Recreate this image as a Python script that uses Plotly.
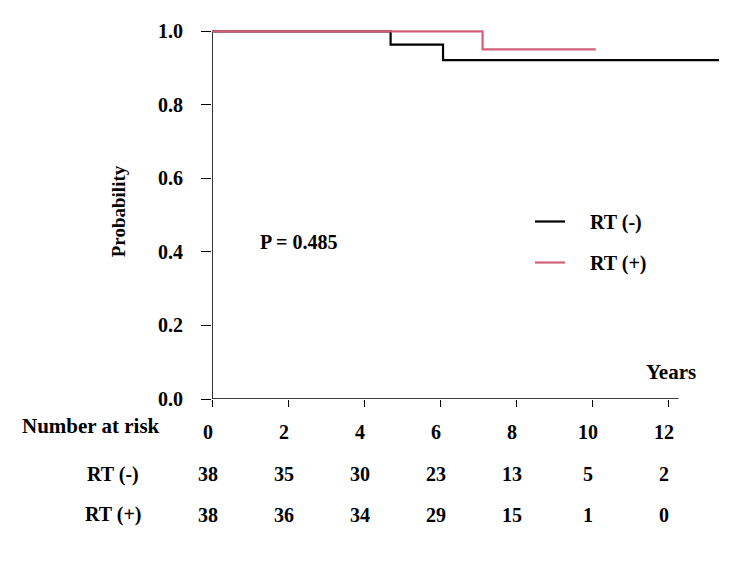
import plotly.graph_objects as go

# ---- data ----
rt_minus_time = [0, 4.70, 6.08, 13.34]
rt_minus_surv = [1.0, 0.964, 0.922, 0.922]
rt_plus_time = [0, 7.12, 10.10]
rt_plus_surv = [1.0, 0.951, 0.951]

x_ticks = [0, 2, 4, 6, 8, 10, 12]
y_ticks = [0.0, 0.2, 0.4, 0.6, 0.8, 1.0]
y_tick_text = ["0.0", "0.2", "0.4", "0.6", "0.8", "1.0"]
risk_minus = [38, 35, 30, 23, 13, 5, 2]
risk_plus = [38, 36, 34, 29, 15, 1, 0]
p_value_text = "P = 0.485"

FONT = "Liberation Serif"
RED = "#D2607A"
NB = "\u00a0"

fig = go.Figure()
fig.add_trace(go.Scatter(x=rt_minus_time, y=rt_minus_surv, mode="lines",
                         line=dict(color="black", width=2.2, shape="hv"),
                         name=NB * 4 + "RT (-)", legendgroup="a"))
fig.add_trace(go.Scatter(x=rt_plus_time, y=rt_plus_surv, mode="lines",
                         line=dict(color=RED, width=2.2, shape="hv"),
                         name=NB * 4 + "RT (+)", legendgroup="b"))

L, T = 212, 24
W, H = 750, 563
plot_w = 725 - L
plot_h = 399 - T

def tfont(size=20):
    return dict(family=FONT, size=size, color="black", weight="bold")

annotations = []
annotations.append(dict(x=2.29, y=0.428, xref="x", yref="y", text=p_value_text,
                        showarrow=False, font=tfont(20)))
annotations.append(dict(x=12.07, y=0.074, xref="x", yref="y", text="Years",
                        showarrow=False, font=tfont(21)))
annotations.append(dict(x=0, y=0, xref="paper", yref="paper", xshift=20 - L,
                        yshift=399 - 426, xanchor="left", yanchor="middle",
                        text="Number at risk", showarrow=False, font=tfont(21)))
for label, ypix in [("RT (-)", 474), ("RT (+)", 514)]:
    annotations.append(dict(x=0, y=0, xref="paper", yref="paper", xshift=113 - L,
                            yshift=399 - ypix, xanchor="center", yanchor="middle",
                            text=label, showarrow=False, font=tfont(20)))
for row, ypix in [(risk_minus, 474), (risk_plus, 515)]:
    for xv, n in zip(x_ticks, row):
        annotations.append(dict(x=xv, y=0, xref="x", yref="paper", xshift=-4,
                                yshift=399 - ypix, xanchor="center", yanchor="middle",
                                text=str(n), showarrow=False, font=tfont(20)))

shapes = [
    dict(type="line", xref="x", yref="y", x0=0, x1=0, y0=0, y1=1.0,
         line=dict(color="black", width=1.6), layer="below"),
    dict(type="line", xref="x", yref="y", x0=0, x1=12.28, y0=0, y1=0,
         line=dict(color="black", width=1.6), layer="below"),
]

fig.update_layout(
    width=W, height=H,
    margin=dict(l=L, r=W - 725, t=T, b=H - 399, pad=0),
    plot_bgcolor="white", paper_bgcolor="white",
    showlegend=True,
    legend=dict(x=(530 - L) / plot_w, y=(399 - 202) / plot_h, xanchor="left", yanchor="top",
                font=tfont(20), bgcolor="rgba(0,0,0,0)", tracegroupgap=12,
                itemwidth=30),
    annotations=annotations,
    shapes=shapes,
    xaxis=dict(range=[0, 13.5], tickvals=x_ticks, ticktext=[str(v) for v in x_ticks],
               ticks="outside", ticklen=7, tickcolor="black", tickwidth=1,
               showgrid=False, zeroline=False, showline=False,
               tickfont=tfont(20), ticklabelstandoff=8, ticklabelshift=-4),
    yaxis=dict(range=[0, 1.02], tickvals=y_ticks, ticktext=y_tick_text,
               ticks="outside", ticklen=10, tickcolor="black", tickwidth=1,
               showgrid=False, zeroline=False, showline=False,
               tickfont=tfont(20), ticklabelstandoff=14,
               title=dict(text="Probability", font=tfont(19), standoff=27)),
)

fig.write_html("out.html")
